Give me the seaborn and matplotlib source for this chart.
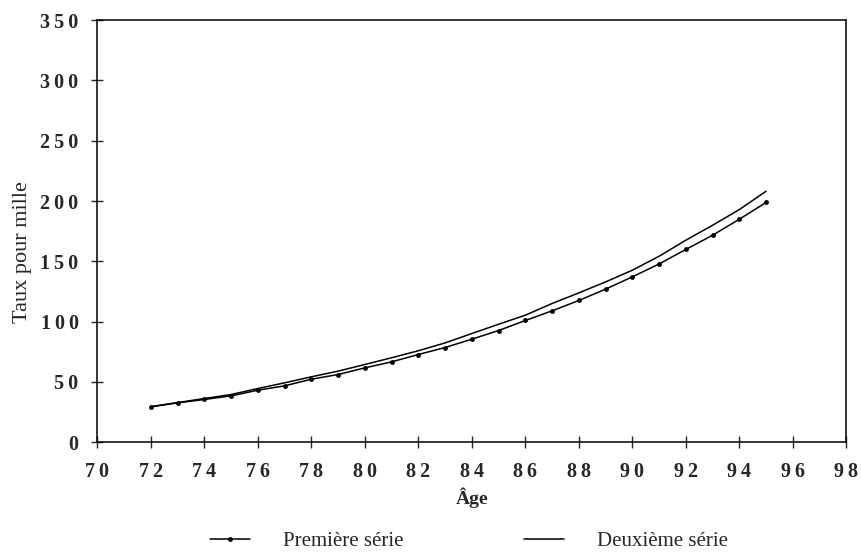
import numpy as np
import pandas as pd
import matplotlib
matplotlib.use("Agg")
import matplotlib.pyplot as plt
from matplotlib.ticker import FuncFormatter, MultipleLocator
import seaborn as sns

sns.set_style("ticks")
plt.rcParams['font.family'] = ['Liberation Serif', 'DejaVu Serif']

# ages et taux (pour mille)
ages = list(range(72, 96))
serie1 = [29.3, 32.6, 35.4, 38.4, 43.1, 46.7, 52.2, 56.1, 61.6, 66.6, 72.7, 78.5,
          85.4, 92.6, 100.9, 108.9, 117.5, 126.9, 137.1, 147.8, 159.8, 171.6, 184.9, 198.8]
serie2 = [29.5, 32.8, 36.2, 39.5, 44.5, 49.2, 54.2, 58.9, 64.4, 70.0, 75.8, 82.3,
          90.1, 97.8, 105.3, 115.0, 123.8, 132.9, 142.6, 154.2, 167.5, 179.9, 192.9, 208.1]
noms = ["Première série", "Deuxième série"]

df1 = pd.DataFrame({"age": ages, "taux": serie1})
df2 = pd.DataFrame({"age": ages, "taux": serie2})

fig, ax = plt.subplots(figsize=(8.61, 5.59), dpi=100)
fig.subplots_adjust(left=0.113, right=0.983, top=0.964, bottom=0.209)

sns.lineplot(data=df1, x="age", y="taux", ax=ax, color="black", lw=1.1,
             marker="o", markersize=3.5, markeredgewidth=0, label=noms[0])
sns.lineplot(data=df2, x="age", y="taux", ax=ax, color="black", lw=1.1,
             label=noms[1])

ax.set_xlim(70, 98)
ax.set_ylim(0, 350)
ax.xaxis.set_major_locator(MultipleLocator(2))
ax.yaxis.set_major_locator(MultipleLocator(50))

# chiffres espaces comme dans l'original
fmt = FuncFormatter(lambda v, _: "\u2009".join(str(int(round(v)))))
ax.xaxis.set_major_formatter(fmt)
ax.yaxis.set_major_formatter(fmt)
for lab in ax.get_xticklabels() + ax.get_yticklabels():
    lab.set_fontweight("bold")
ax.tick_params(direction="inout", length=9, width=1, labelsize=14.5)
ax.tick_params(axis="x", pad=10)
ax.tick_params(axis="y", pad=9)

for s in ax.spines.values():
    s.set_linewidth(1.1)
    s.set_color("black")

ax.set_xlabel("Âge", fontsize=14, fontweight="bold", labelpad=4)
ax.set_ylabel("Taux pour mille", fontsize=16)
ax.yaxis.set_label_coords(-0.087, 0.45)

handles, labels = ax.get_legend_handles_labels()
ax.get_legend().remove()
fig.legend(handles, labels, loc="lower center", bbox_to_anchor=(0.545, -0.02),
           ncol=2, frameon=False, fontsize=15, handlelength=1.9,
           handletextpad=1.6, columnspacing=5.8)

fig.savefig("out.png", dpi=100)
